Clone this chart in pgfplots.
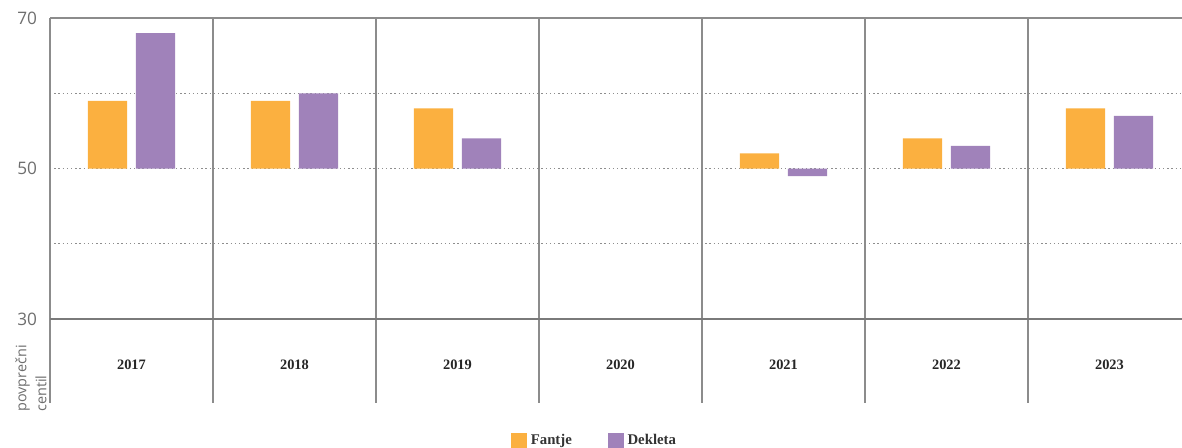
\documentclass[border=0pt]{standalone}
\usepackage{pgfplots}
\pgfplotsset{compat=1.18}
\usepackage{fontspec}
\setmainfont{Liberation Serif}
\newfontfamily\labelsans{Open Sans}
\definecolor{fantje}{HTML}{FBB040}
\definecolor{dekleta}{HTML}{A082BA}
\definecolor{sepgray}{HTML}{8C8C8C}
\definecolor{axgray}{HTML}{7A7A7A}
\definecolor{dotgray}{HTML}{8E8E8E}
\definecolor{ticktext}{HTML}{6E6E6E}

\begin{document}
\begin{tikzpicture}
\begin{axis}[
    scale only axis,
    width=566pt, height=150.5pt,
    xmin=-0.5, xmax=6.445,
    ymin=-20, ymax=20,
    y filter/.expression={y-50},
    clip=false,
    axis line style={draw=none},
    major tick length=0pt,
    tick style={draw=none},
    ytick={-20,0,20},
    yticklabels={30,50,70},
    yticklabel style={font=\labelsans\fontsize{8.6}{10}\selectfont, text=ticktext, xshift=-3pt},
    xtick={0,1,2,3,4,5,6},
    xticklabels={2017,2018,2019,2020,2021,2022,2023},
    xticklabel style={font=\bfseries\fontsize{7.2}{8}\selectfont, text=black!85, anchor=center, yshift=-23pt},
    legend style={draw=none, fill=none, at={(0.482,-0.405)}, anchor=center,
        legend columns=2, font=\bfseries\fontsize{7.4}{8}\selectfont, text=black!80,
        /tikz/every even column/.append style={column sep=16pt}},
    legend image code/.code={\fill[#1] (0pt,-3.9pt) rectangle (7.8pt,3.9pt);},
]
% grid and frame
\draw[dotgray, line width=0.7pt, dash pattern=on 0.7pt off 1.4pt] (axis cs:-0.5,-10) -- (axis cs:6.445,-10);
\draw[dotgray, line width=0.7pt, dash pattern=on 0.7pt off 1.4pt] (axis cs:-0.5,0) -- (axis cs:6.445,0);
\draw[dotgray, line width=0.7pt, dash pattern=on 0.7pt off 1.4pt] (axis cs:-0.5,10) -- (axis cs:6.445,10);
\draw[sepgray, line width=0.7pt] (axis cs:-0.5,20) -- (axis cs:6.445,20);
\pgfplotsinvokeforeach{-0.5,0.5,1.5,2.5,3.5,4.5,5.5}{
  \draw[sepgray, line width=0.75pt] (axis cs:#1,20) -- (axis cs:#1,-31.16);
}
\draw[axgray, line width=1pt] (axis cs:-0.5,-20) -- (axis cs:6.445,-20);

\addplot[ybar, bar width=0.24, bar shift=-0.147, fill=fantje, draw=none]
  coordinates {(0,59) (1,59) (2,58) (4,52) (5,54) (6,58)};
\addplot[ybar, bar width=0.24, bar shift=0.147, fill=dekleta, draw=none]
  coordinates {(0,68) (1,60) (2,54) (4,49) (5,53) (6,57)};
\legend{Fantje, Dekleta}

\coordinate (ll) at (rel axis cs:0,0);
\end{axis}
\node[rotate=90, anchor=west, align=left, inner sep=0pt, text=ticktext,
      font=\labelsans\fontsize{7.2}{10}\selectfont] at ([shift={(-9.5pt,-46.5pt)}]ll) {povprečni\\centil};
\pgfresetboundingbox
\path ([shift={(-25pt,-64pt)}]ll) rectangle ([shift={(566pt,159.5pt)}]ll);
\end{tikzpicture}
\end{document}
